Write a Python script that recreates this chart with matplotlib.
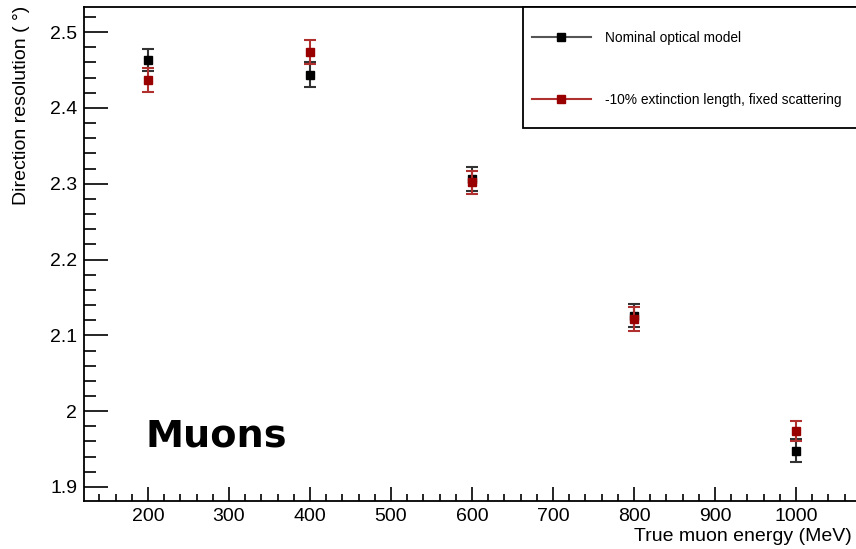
import numpy as np
import matplotlib
matplotlib.use("Agg")
import matplotlib.pyplot as plt
from matplotlib.lines import Line2D
from matplotlib.patches import Rectangle
from matplotlib.ticker import MultipleLocator

plt.rcParams['font.family'] = ['Liberation Sans', 'DejaVu Sans']

energy = [200, 400, 600, 800, 1000]
nominal = [2.463, 2.444, 2.306, 2.126, 1.948]
nominal_err = [0.015, 0.017, 0.016, 0.015, 0.015]
ext10 = [2.437, 2.474, 2.302, 2.122, 1.974]
ext10_err = [0.016, 0.016, 0.015, 0.016, 0.013]
labels = ["Nominal optical model", "-10% extinction length, fixed scattering"]

black = "#000000"
red = "#990000"

fig = plt.figure(figsize=(8.56, 5.49), dpi=100)
ax = fig.add_axes([0.0981, 0.0874, 0.9019, 0.8998])

ax.errorbar(energy, nominal, yerr=nominal_err, fmt='s', color=black, ecolor="#333333",
            markersize=6, elinewidth=1.5, capsize=4, capthick=1.5, zorder=3)
ax.errorbar(energy, ext10, yerr=ext10_err, fmt='s', color=red, ecolor="#b03030",
            markersize=6, elinewidth=1.5, capsize=4, capthick=1.5, zorder=4)

ax.set_xlim(121, 1074)
ax.set_ylim(1.8815, 2.533)

ax.xaxis.set_major_locator(MultipleLocator(100))
ax.xaxis.set_minor_locator(MultipleLocator(20))
ax.yaxis.set_major_locator(MultipleLocator(0.1))
ax.yaxis.set_minor_locator(MultipleLocator(0.02))
ax.set_yticks([1.9, 2.0, 2.1, 2.2, 2.3, 2.4, 2.5])
ax.set_yticklabels(["1.9", "2", "2.1", "2.2", "2.3", "2.4", "2.5"])

ax.tick_params(axis='x', which='major', direction='in', length=10, width=1.2, labelsize=14, pad=5)
ax.tick_params(axis='x', which='minor', direction='in', length=5, width=1.2)
ax.tick_params(axis='y', which='major', direction='in', length=17, width=1.2, labelsize=14, pad=5)
ax.tick_params(axis='y', which='minor', direction='in', length=8.5, width=1.2)
for s in ['left', 'bottom', 'top']:
    ax.spines[s].set_linewidth(1.3)
ax.spines['right'].set_visible(False)

fig.text(0.995, 0.022, "True muon energy (MeV)", ha='right', va='center', fontsize=14)
fig.text(0.025, 0.99, "Direction resolution ( °)", ha='center', va='top', rotation=90, fontsize=14)

ax.text(0.0795, 0.11, "Muons", transform=ax.transAxes, fontsize=27.5, fontweight='bold',
        family=['DejaVu Sans'], ha='left', va='baseline')

# legend box (ROOT style, runs off the right edge)
ax.add_patch(Rectangle((0.5687, 0.755), 0.46, 0.245, transform=ax.transAxes,
                       facecolor='white', edgecolor='black', lw=1.3, clip_on=False, zorder=5))

handles = [
    Line2D([], [], color="#555555", lw=1.5, marker='s', markersize=6, markerfacecolor=black, markeredgecolor=black),
    Line2D([], [], color="#b03030", lw=1.5, marker='s', markersize=6, markerfacecolor=red, markeredgecolor=red),
]
leg = ax.legend(handles, labels, loc='upper left', bbox_to_anchor=(0.549, 1.0),
                fontsize=9.9, frameon=False,
                borderpad=1.75, labelspacing=3.5, handlelength=4.3,
                handletextpad=1.05, borderaxespad=0)
leg.set_zorder(6)

fig.savefig("out.png", dpi=100)
